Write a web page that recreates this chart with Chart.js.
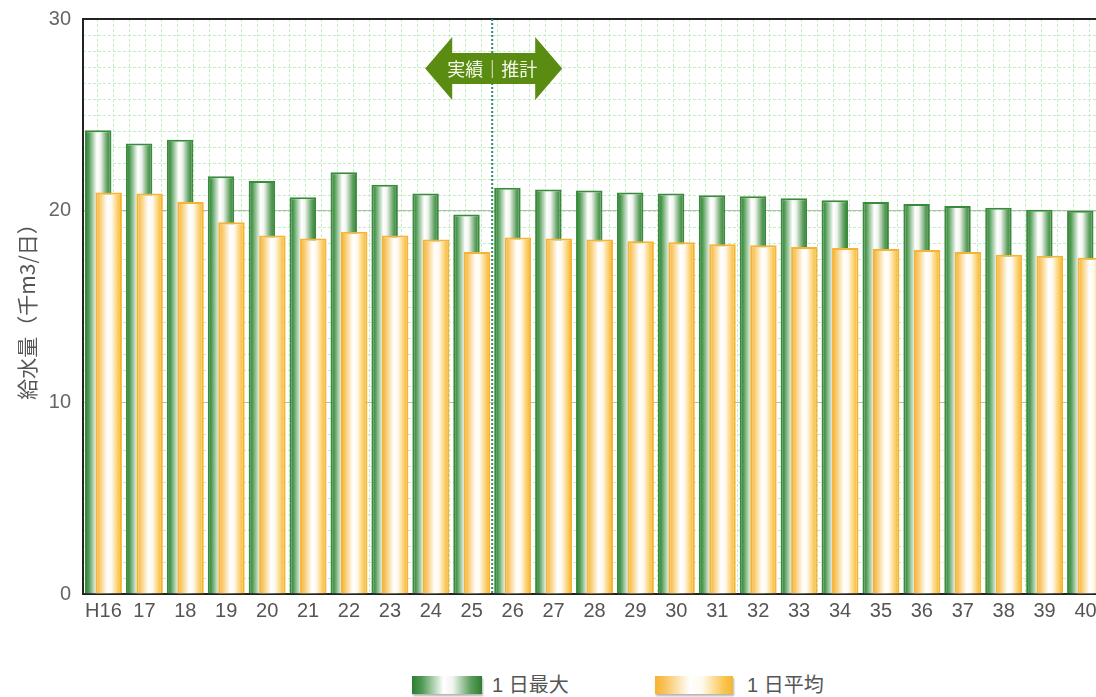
<!DOCTYPE html>
<html>
<head>
<meta charset="utf-8">
<script src="https://cdn.jsdelivr.net/npm/chart.js@4"></script>
<style>
  html, body { margin: 0; padding: 0; background: #fff; overflow: hidden; width: 1096px; height: 697px; }
  #wrap { position: relative; width: 1096px; height: 697px; overflow: hidden; }
  #canvas { position: absolute; left: 0; top: 0; }
  .sw { position: absolute; top: 676px; height: 18px; box-shadow: 1px 2px 2px rgba(0,0,0,0.3); }
  .lt { position: absolute; top: 672px; font: 20px "Liberation Sans", "Noto Sans CJK JP", sans-serif; color: #555; line-height: 26px; }
</style>
</head>
<body>
<div id="wrap">
  <canvas id="canvas" width="1108" height="640"></canvas>
  <div id="legend"></div>
</div>
<script>
// 年度（H16〜40）
const years = ['H16', '17', '18', '19', '20', '21', '22', '23', '24', '25',
  '26', '27', '28', '29', '30', '31', '32', '33', '34', '35',
  '36', '37', '38', '39', '40'];
// 1日最大給水量（千m3/日）
const maxDaily = [24.2, 23.5, 23.7, 21.8, 21.55, 20.7, 22.0, 21.35, 20.9, 19.8,
  21.2, 21.1, 21.05, 20.95, 20.9, 20.8, 20.75, 20.65, 20.55, 20.45,
  20.35, 20.25, 20.15, 20.05, 20.0];
// 1日平均給水量（千m3/日）
const avgDaily = [20.95, 20.9, 20.45, 19.4, 18.7, 18.55, 18.9, 18.7, 18.5, 17.85,
  18.6, 18.55, 18.5, 18.4, 18.35, 18.25, 18.2, 18.1, 18.05, 18.0,
  17.95, 17.85, 17.7, 17.65, 17.55];
const yTicks = [0, 10, 20, 30];
const seriesNames = ['1 日最大', '1 日平均'];
const lastActual = '25';   // 実績の最終年度
const arrowText = '実績｜推計';

const CAT_PCT = 0.513;
const BAR_PCT = 2.52;

const greenStops = [[0, '#2f7d34'], [0.14, '#4f9a52'], [0.45, '#ffffff'], [0.58, '#f2f5f0'], [0.84, '#5d9f5e'], [1, '#2f7d34']];
const orangeStops = [[0, '#f6b22e'], [0.12, '#f9c258'], [0.45, '#ffffff'], [0.6, '#fffaf0'], [0.88, '#fac650'], [1, '#f6b530']];

function barFill(kind) {
  const stops = kind === 'max' ? greenStops : orangeStops;
  return function (ctx) {
    const chart = ctx.chart;
    if (ctx.type !== 'data' || !chart.chartArea) return stops[0][1];
    const xs = chart.scales.x;
    const step = xs.width / years.length;
    const range = step * CAT_PCT;
    const size = range / 2 * BAR_PCT;
    const c = xs.getPixelForValue(ctx.dataIndex) + (kind === 'max' ? -range / 4 : range / 4);
    const g = chart.ctx.createLinearGradient(c - size / 2, 0, c + size / 2, 0);
    stops.forEach(s => g.addColorStop(s[0], s[1]));
    return g;
  };
}

const data = {
  labels: years,
  datasets: [
    {
      label: seriesNames[0],
      data: maxDaily,
      backgroundColor: barFill('max'),
      borderColor: '#3a8a3c',
      borderWidth: 2,
    },
    {
      label: seriesNames[1],
      data: avgDaily,
      backgroundColor: barFill('avg'),
      borderColor: '#f5b436',
      borderWidth: 2,
    },
  ],
};

// 平均の棒を最大の棒の上に重ねて描く
const AVG = 1;
const avgOnTop = {
  id: 'avgOnTop',
  beforeDatasetDraw(chart, args) {
    if (args.index === AVG) return false;
  },
  afterDatasetsDraw(chart) {
    chart.getDatasetMeta(AVG).controller.draw();
  }
};

// 背景の細かい方眼と「実績｜推計」の矢印
const backdrop = {
  id: 'backdrop',
  beforeDraw(chart) {
    const { ctx, chartArea: a } = chart;
    ctx.save();
    ctx.strokeStyle = '#c6ecc6';
    ctx.lineWidth = 1;
    ctx.setLineDash([3, 2]);
    ctx.beginPath();
    for (let x = a.left + 14; x < a.right; x += 16) {
      ctx.moveTo(Math.round(x) + 0.5, a.top);
      ctx.lineTo(Math.round(x) + 0.5, a.bottom);
    }
    const hs = a.height / 36;
    for (let k = 1; k < 36; k++) {
      const y = Math.round(a.top + hs * k) + 0.5;
      ctx.moveTo(a.left, y);
      ctx.lineTo(a.right, y);
    }
    ctx.stroke();
    ctx.restore();
  },
  afterDatasetsDraw(chart) {
    const { ctx, chartArea: a, scales } = chart;
    const i = years.indexOf(lastActual);
    const bx = (scales.x.getPixelForValue(i) + scales.x.getPixelForValue(i + 1)) / 2;
    ctx.save();
    ctx.strokeStyle = '#2d8a6c';
    ctx.lineWidth = 2;
    ctx.setLineDash([2, 2]);
    ctx.beginPath();
    ctx.moveTo(bx, a.top);
    ctx.lineTo(bx, a.bottom);
    ctx.stroke();
    ctx.setLineDash([]);

    const cy = scales.y.getPixelForValue(27.42);
    const L = bx - 67, R = bx + 70, hl = 27, hh = 31.5, sh = 15.5;
    ctx.fillStyle = '#5b8c12';
    ctx.beginPath();
    ctx.moveTo(L, cy);
    ctx.lineTo(L + hl, cy - hh);
    ctx.lineTo(L + hl, cy - sh);
    ctx.lineTo(R - hl, cy - sh);
    ctx.lineTo(R - hl, cy - hh);
    ctx.lineTo(R, cy);
    ctx.lineTo(R - hl, cy + hh);
    ctx.lineTo(R - hl, cy + sh);
    ctx.lineTo(L + hl, cy + sh);
    ctx.lineTo(L + hl, cy + hh);
    ctx.closePath();
    ctx.fill();
    ctx.fillStyle = '#f4f8ea';
    ctx.font = '18px "Noto Sans CJK JP"';
    ctx.textAlign = 'center';
    ctx.textBaseline = 'middle';
    ctx.fillText(arrowText, bx, cy + 1);
    ctx.restore();
  }
};

const options = {
  responsive: false,
  animation: false,
  devicePixelRatio: 1,
  layout: { padding: { left: 0, right: 2, top: 19, bottom: 6 } },
  plugins: { legend: { display: false }, tooltip: { enabled: false } },
  datasets: { bar: { categoryPercentage: CAT_PCT, barPercentage: BAR_PCT, borderSkipped: 'bottom' } },
  scales: {
    x: {
      type: 'category',
      grid: { display: false },
      border: { display: true, color: '#222', width: 2 },
      ticks: {
        color: '#555',
        font: { family: '"Liberation Sans", sans-serif', size: 20, lineHeight: 1 },
        padding: -1,
        maxRotation: 0,
        autoSkip: false,
      },
      afterFit(s) { s.height = 40; s.paddingLeft = 0; s.paddingRight = 0; },
    },
    y: {
      min: 0,
      max: 30,
      afterBuildTicks(s) { s.ticks = yTicks.map(v => ({ value: v })); },
      afterFit(s) { s.width = 83; s.paddingTop = 0; s.paddingBottom = 0; },
      border: { display: true, color: '#222', width: 2 },
      grid: {
        drawTicks: false,
        color: c => c.tick.value === 30 ? '#222' : (c.tick.value === 0 ? 'rgba(0,0,0,0)' : '#adc4a6'),
        lineWidth: c => c.tick.value === 30 ? 2 : 1,
      },
      ticks: {
        color: '#666',
        padding: 12,
        font: { family: '"Liberation Sans", sans-serif', size: 20 },
      },
      title: {
        display: true,
        text: '給水量（千m3/日）',
        color: '#555',
        font: { family: '"Noto Sans CJK JP", sans-serif', size: 21 },
        padding: { top: 14, bottom: 0 },
      },
    },
  },
};

const canvas = document.getElementById('canvas');
const chart = new Chart(canvas, {
  type: 'bar',
  data: data,
  options: options,
  plugins: [backdrop, avgOnTop],
});

// 凡例（グラデーションの見本）
const legend = document.getElementById('legend');
const legendItems = [
  { name: seriesNames[0], stops: greenStops, left: 412, width: 70, textLeft: 492 },
  { name: seriesNames[1], stops: orangeStops, left: 655, width: 78, textLeft: 747 },
];
legendItems.forEach(item => {
  const sw = document.createElement('div');
  sw.className = 'sw';
  sw.style.left = item.left + 'px';
  sw.style.width = item.width + 'px';
  sw.style.background = 'linear-gradient(90deg,' + item.stops.map(s => s[1] + ' ' + (s[0] * 100) + '%').join(',') + ')';
  legend.appendChild(sw);
  const t = document.createElement('div');
  t.className = 'lt';
  t.style.left = item.textLeft + 'px';
  t.textContent = item.name;
  legend.appendChild(t);
});
</script>
</body>
</html>
